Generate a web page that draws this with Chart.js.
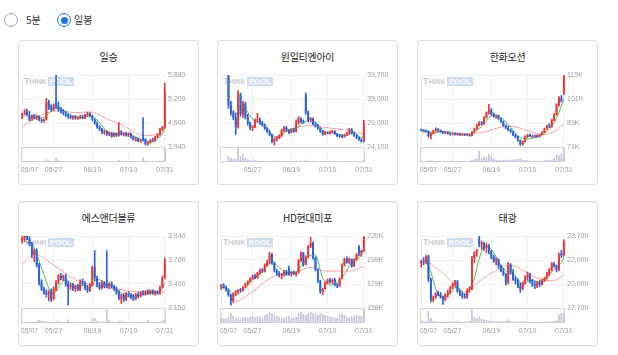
<!DOCTYPE html>
<html><head><meta charset="utf-8">
<script src="https://cdn.jsdelivr.net/npm/chart.js@4/dist/chart.umd.min.js"></script>
<style>
html,body{margin:0;padding:0;background:#fff;width:618px;height:355px;overflow:hidden;font-family:"Noto Sans CJK KR","Noto Sans",sans-serif;}
.rb{position:absolute;top:13px;width:12px;height:12px;border:1px solid #a3a3a3;border-radius:50%;background:#fff}
.rb.on{border-color:#1f6fe0}
.rb.on::after{content:"";position:absolute;left:2.5px;top:2.5px;width:7px;height:7px;border-radius:50%;background:#1f6fe0}
.rl{position:absolute;top:13px;font-size:10px;line-height:14px;color:#333}
.card{position:absolute;width:181px;height:145px;box-sizing:border-box;border:1px solid #dedede;border-radius:3px;background:#fff}
.card canvas{position:absolute;left:-1px;top:-1px}
.title{position:absolute;left:-1px;width:181px;top:9px;text-align:center;font-size:10px;line-height:14px;color:#222;letter-spacing:-0.3px}
.wm{position:absolute;left:5px;top:36px;font-family:"Liberation Sans",Arial,sans-serif;font-weight:bold;color:#c9c9c9;font-size:7px;line-height:9px;white-space:nowrap}
.wm .T{font-size:9px}
.wm .p{display:inline-block;background:#cddcf2;color:#fff;padding:0 2px;margin-left:1px;font-size:8px;line-height:9px}
</style></head>
<body>
<div class="rb" style="left:4px"></div><div class="rl" style="left:26px">5분</div>
<div class="rb on" style="left:57px"></div><div class="rl" style="left:74px">일봉</div>

<div class="card" style="left:18px;top:40px"><div class="title">일승</div><div class="wm"><span class="T">T</span>HINK<span class="p">POOL</span></div><canvas id="c1" width="181" height="145"></canvas></div>
<div class="card" style="left:217px;top:40px"><div class="title">원일티엔아이</div><div class="wm"><span class="T">T</span>HINK<span class="p">POOL</span></div><canvas id="c2" width="181" height="145"></canvas></div>
<div class="card" style="left:417px;top:40px"><div class="title">한화오션</div><div class="wm"><span class="T">T</span>HINK<span class="p">POOL</span></div><canvas id="c3" width="181" height="145"></canvas></div>
<div class="card" style="left:18px;top:201px"><div class="title">에스앤더블류</div><div class="wm"><span class="T">T</span>HINK<span class="p">POOL</span></div><canvas id="c4" width="181" height="145"></canvas></div>
<div class="card" style="left:217px;top:201px"><div class="title">HD현대미포</div><div class="wm"><span class="T">T</span>HINK<span class="p">POOL</span></div><canvas id="c5" width="181" height="145"></canvas></div>
<div class="card" style="left:417px;top:201px"><div class="title">태광</div><div class="wm"><span class="T">T</span>HINK<span class="p">POOL</span></div><canvas id="c6" width="181" height="145"></canvas></div>

<script>
const dates = ['05/07','05/08','05/09','05/10','05/13','05/14','05/16','05/17','05/20','05/21','05/22','05/23','05/24','05/27','05/28','05/29','05/30','05/31','06/03','06/04','06/05','06/07','06/10','06/11','06/12','06/13','06/14','06/17','06/18','06/19','06/20','06/21','06/24','06/25','06/26','06/27','06/28','07/01','07/02','07/03','07/04','07/05','07/08','07/09','07/10','07/11','07/12','07/15','07/16','07/17','07/18','07/19','07/22','07/23','07/24','07/25','07/26','07/29','07/30','07/31'];
const xLabels = ['05/07','05/27','06/19','07/10','07/31'];
const xLabelsNoFirst = ['05/27','06/19','07/10','07/31'];

// 일승
const c1Ticks = ['5,880','5,200','4,600','3,940'];
const c1Range = [3940, 5880];
const c1Open  = [4780,4850,4900,4800,4680,4780,4720,4760,4660,4640, 4680,5150,5000,4950,5150,5050,4950,4900,4850,4800, 4760,4720,4740,4710,4740,4760,4720,4800,4840,4780, 4680,4580,4480,4420,4330,4360,4280,4320,4230,4310, 4250,4350,4290,4310,4250,4300,4200,4140,4170,4100, 4200,4150,4020,4060,4130,4110,4210,4280,4420,4460];
const c1High  = [4850,4950,4960,4900,4800,4820,4800,4780,4700,4700, 5250,5200,5080,5100,5880,5150,5000,4950,4900,4830, 4800,4780,4790,4760,4800,4800,4820,4880,4870,4800, 4700,4620,4520,4450,4400,4380,4350,4340,4330,4320, 4600,4380,4330,4340,4320,4320,4230,4200,4180,4150, 4730,4170,4080,4150,4180,4230,4300,4450,4500,5660];
const c1Low   = [4700,4800,4780,4640,4650,4700,4680,4640,4600,4600, 4660,4950,4900,4920,4980,4900,4850,4800,4760,4720, 4700,4680,4690,4680,4700,4700,4700,4760,4750,4650, 4550,4450,4380,4300,4280,4250,4240,4200,4210,4220, 4230,4260,4240,4230,4220,4180,4120,4100,4080,4060, 4100,3990,3990,4040,4080,4100,4180,4250,4380,4440];
const c1Close = [4850,4900,4800,4680,4780,4720,4760,4660,4640,4680, 5150,5000,4950,5050,5050,4950,4900,4850,4800,4760, 4720,4740,4710,4740,4760,4720,4800,4840,4780,4680, 4580,4480,4420,4330,4360,4280,4320,4230,4310,4250, 4350,4290,4310,4250,4300,4200,4140,4170,4100,4120, 4150,4020,4060,4130,4110,4210,4280,4420,4460,5450];
const c1Vol   = [8,6,5,7,5,4,4,5,4,4, 18,10,6,5,30,12,7,5,5,4, 4,4,3,4,4,4,5,6,5,5, 5,6,5,6,4,4,4,4,4,5, 14,6,4,4,4,4,5,4,4,4, 30,10,6,5,4,5,6,8,9,100];
const c1Ma20  = [[0,4490],[5,4700],[11,4870],[16,4920],[19,4880],[24,4870],[29,4880],[33,4770],[36,4670],[41,4540],[46,4360],[50,4250],[55,4270],[59,4360]];
const c1Ma5   = [[4,4800],[7,4720],[10,4780],[13,4970],[16,4980],[19,4850],[22,4750],[25,4730],[28,4780],[31,4670],[34,4430],[37,4300],[40,4290],[43,4290],[46,4240],[49,4150],[52,4090],[55,4110],[58,4300],[59,4560]];

// 원일티엔아이
const c2Ticks = ['39,700','35,000','29,000','24,100'];
const c2Range = [24100, 39700];
const c2Open  = [null,null,null,39600,33200,31500,30500,28500,35500,31200, 33500,30500,29200,28200,28500,29900,30000,29300,28900,28100, 27400,26700,25200,25900,26200,26500,27800,28300,27700,27300, 27800,27500,29400,30300,29600,35300,31600,29800,30300,29100, 28700,28100,27500,26900,27200,27000,27400,27500,26900,26500, 26400,26300,26700,27100,27900,27100,26600,26100,25700,25300];
const c2High  = [null,null,null,39700,34000,32000,31500,36300,35800,34000, 33800,31200,29500,28800,30200,31400,30400,29700,29100,28300, 27700,26900,26100,26400,26700,28000,28600,28500,27900,28000, 28200,30000,30700,30500,30000,35800,31900,30500,30400,29500, 29000,28300,27700,27500,27400,27600,27700,27600,27000,26800, 26700,26900,27300,28200,28100,27300,26800,26300,25900,29900];
const c2Low   = [null,null,null,32500,31000,30000,26800,28200,30800,30500, 30200,28800,27800,27600,28300,29400,29000,28600,27900,27200, 26500,25000,24500,25400,25900,26300,27400,27500,27000,27100, 27300,27300,29000,29300,29200,31200,29500,29500,28900,28400, 27900,27300,26600,26700,26900,26900,27100,26800,26300,26200, 26100,26200,26500,26900,26900,26400,25900,25500,25100,25200];
const c2Close = [null,null,null,33200,31500,30500,28500,35500,31200,33500, 30500,29200,28200,28500,29900,30000,29300,28900,28100,27400, 26700,25200,25900,26200,26500,27800,28300,27700,27300,27800, 27500,29400,30300,29600,29500,31600,29800,30300,29100,28700, 28100,27500,26900,27200,27000,27400,27500,26900,26500,26400, 26300,26700,27100,27900,27100,26600,26100,25700,25300,29200];
const c2Vol   = [null,null,null,40,30,22,25,100,40,55, 30,20,15,10,12,10,8,7,6,6, 6,8,10,8,6,5,5,5,4,5, 5,8,6,5,5,15,8,5,5,4, 4,4,4,4,3,4,4,4,3,3, 3,4,4,6,4,3,3,3,4,12];
const c2Ma20  = [[22,26000],[26,27300],[31,28300],[35,28700],[40,28600],[45,28200],[50,27900],[54,27600],[59,26900]];
const c2Ma5   = [[7,32400],[10,32300],[13,30100],[16,29400],[19,28300],[22,26300],[25,26600],[28,27900],[31,28200],[34,29300],[37,30200],[40,28800],[43,27400],[46,27200],[49,26800],[52,26700],[55,27200],[58,26100],[59,26800]];

// 한화오션
const c3Ticks = ['115K','101K','89K','71K'];
const c3Range = [71000, 115000];
const c3Open  = [81500,81200,80900,80600,77800,79000,80800,82000,80900,80300, 79600,80000,79100,78600,79200,78500,79000,78400,78800,78300, 78600,77900,80200,82000,84300,86000,85100,89000,92000,93500, 91000,89600,90200,88200,86400,84000,82600,81500,80200,78400, 77000,75000,72600,74300,77200,78400,77700,77200,78100,77300, 78600,80000,82100,84000,83400,87500,90800,96800,101200,104000];
const c3High  = [82000,81600,81400,81000,79500,81200,82800,82300,81500,80700, 80300,80400,79600,79400,79500,79300,79300,79000,79100,78900, 78800,80500,82500,84800,86500,86600,89600,92500,97000,94500, 91800,90700,90600,88600,87000,84600,83500,82000,80800,79000, 77500,75400,74800,77800,78800,79000,78300,78400,78500,78800, 80400,82600,84400,85200,88000,91500,97500,101800,102500,115500];
const c3Low   = [80800,80500,80200,77000,76000,78800,80500,80600,80000,79200, 79000,78800,78200,78300,78200,78200,78100,78000,78000,77900, 77600,77700,80000,81600,83800,84500,84800,88500,91000,90500, 89200,88500,87800,86000,83500,82200,81000,79800,78000,76500, 74500,72000,72200,74000,76700,77300,76800,77000,76900,77100, 78300,79600,81800,82800,83000,87000,90300,96000,98500,103000];
const c3Close = [81200,80900,80600,77800,79000,80800,82000,80900,80300,79600, 80000,79100,78600,79200,78500,79000,78400,78800,78300,78600, 77900,80200,82000,84300,86000,85100,89000,92000,93500,91000, 89600,90200,88200,86400,84000,82600,81500,80200,78400,77000, 75000,72600,74300,77200,78400,77700,77200,78100,77300,78600, 80000,82100,84000,83400,87500,90800,96800,101200,99200,114500];
const c3Vol   = [6,5,5,12,10,8,9,6,5,5, 5,4,4,4,4,4,4,4,4,4, 5,12,20,25,75,25,35,30,55,35, 25,15,15,12,12,12,15,15,15,18, 20,25,15,15,12,8,7,7,6,8, 8,12,15,12,15,25,50,45,55,95];
const c3Ma20  = [[0,80000],[10,80300],[20,79100],[27,80500],[32,82800],[37,83700],[42,82000],[47,79500],[51,78700],[55,80500],[59,85000]];
const c3Ma5   = [[0,81300],[5,79500],[10,80600],[15,78900],[20,78700],[25,83500],[29,90000],[33,89200],[37,83000],[41,76700],[45,76000],[49,77700],[53,81900],[56,88500],[59,100500]];

// 에스앤더블류
const c4Ticks = ['3,940','3,700','3,400','3,150'];
const c4Range = [3150, 3940];
const c4Open  = [3880,3920,3940,3910,3850,3730,3780,3620,3430,3360, 3320,3300,3320,3250,3360,3430,3500,3480,3500,3420, 3380,3400,3360,3390,3350,3440,3420,3370,3340,3400, 3600,3480,3400,3370,3430,3420,3390,3410,3380,3360, 3320,3260,3290,3240,3310,3290,3270,3250,3300,3280, 3320,3300,3330,3310,3340,3310,3330,3310,3380,3480];
const c4High  = [3935,3950,3950,3940,3870,3800,3800,3640,3460,3380, 3350,3340,3360,3380,3450,3520,3530,3510,3520,3440, 3420,3420,3400,3410,3460,3470,3440,3400,3420,3610, 3780,3500,3430,3450,3440,3780,3430,3440,3400,3380, 3340,3300,3310,3320,3330,3310,3300,3310,3320,3330, 3340,3340,3350,3350,3350,3340,3340,3390,3500,3700];
const c4Low   = [3860,3880,3900,3830,3700,3660,3600,3400,3340,3300, 3270,3230,3220,3240,3340,3410,3460,3450,3390,3180, 3350,3340,3330,3340,3340,3400,3350,3320,3330,3390, 3450,3380,3350,3360,3370,3370,3360,3370,3340,3300, 3240,3200,3220,3230,3270,3250,3230,3240,3260,3270, 3290,3290,3300,3300,3300,3290,3300,3300,3370,3470];
const c4Close = [3920,3940,3910,3850,3730,3780,3620,3430,3360,3320, 3300,3320,3250,3360,3430,3500,3480,3500,3410,3380, 3400,3360,3390,3350,3440,3420,3370,3340,3400,3600, 3480,3400,3370,3430,3390,3390,3410,3380,3360,3320, 3260,3290,3240,3310,3290,3270,3250,3300,3280,3320, 3300,3330,3310,3340,3310,3330,3310,3380,3480,3660];
const c4Vol   = [8,6,5,8,10,8,12,20,18,12, 10,8,8,8,10,10,8,6,10,25, 8,6,6,5,8,6,6,5,8,30, 35,15,10,10,8,100,20,10,8,8, 12,12,8,8,6,6,6,6,8,6, 8,6,20,6,6,6,8,12,18,25];
const c4Ma20  = [[0,3625],[5,3740],[12,3640],[19,3510],[24,3435],[33,3390],[40,3355],[47,3330],[59,3330]];
const c4Ma5   = [[2,3870],[4,3860],[6,3740],[8,3590],[10,3440],[12,3310],[14,3330],[16,3410],[18,3460],[20,3430],[22,3390],[24,3390],[26,3400],[28,3370],[30,3440],[32,3460],[34,3410],[36,3400],[38,3390],[40,3340],[42,3280],[44,3280],[46,3280],[48,3280],[50,3300],[52,3310],[54,3320],[56,3320],[58,3360],[59,3420]];

// HD현대미포
const c5Ticks = ['220K','199K','179K','158K'];
const c5Range = [158000, 220000];
const c5Open  = [176000,177500,176000,173500,169000,164000,170000,172000,173500,173000, 176000,179000,181000,183500,185500,184000,188500,190500,189500,195000, 198000,204000,196500,190000,187500,186000,187000,189500,192000,187500, 189000,187500,188500,199000,205500,195500,202000,211000,214000,201000, 191000,181000,172000,174500,180000,182000,180500,182500,178000,177000, 183500,195000,200000,197500,200000,194000,199500,211000,205000,207000];
const c5High  = [178500,179000,177000,174500,170000,171000,173000,174000,175000,176500, 179500,181500,184000,186500,187000,189000,191500,192000,196000,199000, 206000,205000,197500,191500,189500,188000,190500,190500,194000,189500, 190000,189000,200000,206500,206000,203000,212000,219000,215000,202000, 192000,182000,175000,180500,183000,183500,183000,183500,179000,184000, 196000,201000,202000,201000,200500,200500,205000,212000,208000,221000];
const c5Low   = [174000,175000,172500,168000,160500,163000,169000,170500,172000,172500, 175500,177500,180000,182500,183000,183500,187000,188500,189000,194000, 196000,195500,189000,186000,184500,183000,185500,186000,186000,185500, 186500,185500,188000,198000,194000,195000,201000,210000,200000,190000, 180000,170500,169500,174000,178500,179500,179000,177000,175500,176500, 183000,194000,196500,196000,193000,193500,199000,203000,202500,206500];
const c5Close = [177500,176000,173500,169000,164000,170000,172000,173500,173000,176000, 179000,181000,183500,185500,184000,188500,190500,189500,195000,198000, 204000,196500,190000,187500,186000,187000,189500,187000,187500,189000, 187500,188500,199000,205500,195500,202000,211000,214000,201000,191000, 181000,172000,174500,180000,182000,180500,182500,178000,177000,183500, 195000,200000,197500,200000,194000,199500,204000,205000,207000,219000];
const c5Vol   = [30,25,28,35,55,40,30,28,25,30, 35,30,35,40,30,35,38,30,45,50, 60,55,45,40,35,30,30,35,40,30, 30,35,55,60,50,45,55,60,55,50, 45,55,50,45,40,35,35,30,30,45, 55,45,35,30,35,40,45,40,40,80];
const c5Ma20  = [[4,162000],[7,164000],[13,172000],[19,182000],[23,186000],[31,189000],[37,193000],[42,190000],[48,190000],[54,190000],[59,194000]];
const c5Ma5   = [[0,176000],[3,174000],[6,169000],[9,173000],[12,180000],[15,186000],[18,191000],[21,198000],[24,193000],[27,188000],[30,188000],[33,194000],[36,202000],[39,204000],[42,184000],[45,178000],[48,180000],[51,187000],[54,197000],[57,201000],[59,208000]];

// 태광
const c6Ticks = ['23,700','22,000','20,000','17,700'];
const c6Range = [17700, 23700];
const c6Open  = [21400,21600,21500,22000,20100,18400,18600,18900,18800,18600, 18400,18800,19000,19400,19700,19900,19100,18800,18700,18600, 19200,19300,21800,22300,23500,23000,23100,22700,22900,22400, 22000,21600,21700,21200,20800,20500,19800,21300,20700,20100, 19900,19500,19300,19800,20200,20500,19900,19600,19500,19800, 19700,20000,20200,20600,20900,21400,21200,20900,22300,22100];
const c6High  = [21700,21900,22100,22100,20200,18700,19000,19100,19000,18700, 18900,19200,19500,19800,20000,20000,19200,19000,18900,19300, 19500,22000,22400,22600,23800,23300,23200,23100,23000,22500, 22100,21900,21800,21300,21000,20600,21500,21400,20900,20300, 20100,19800,19900,20400,20700,20600,20100,19900,19900,20000, 20100,20300,20700,21000,21500,21500,21300,22300,22500,23400];
const c6Low   = [21100,21300,21400,19900,18200,18200,18500,18700,18500,18000, 18300,18600,18900,19300,19500,19000,18700,18500,18500,18500, 19000,19200,21500,22000,22800,22600,22500,22300,22200,21800, 21500,21300,21000,20700,20400,19600,19700,20500,20000,19700, 19400,19000,19200,19700,20000,19800,19500,19300,19400,19500, 19600,19900,20100,20400,20800,21100,20700,20800,21900,22000];
const c6Close = [21600,21500,22000,20100,18400,18600,18900,18800,18600,18400, 18800,19000,19400,19700,19900,19100,18800,18700,18600,19200, 19300,21800,22300,22500,23000,23100,22700,22900,22400,22000, 21600,21700,21200,20800,20500,19800,21300,20700,20100,19900, 19500,19300,19800,20200,20500,19900,19600,19500,19800,19700, 20000,20200,20600,20900,21400,21200,20900,22100,22100,23200];
const c6Vol   = [15,10,12,85,35,15,12,10,10,12, 8,10,12,12,10,12,10,8,8,10, 15,100,40,35,45,30,25,20,15,12, 12,10,10,12,12,15,25,15,12,10, 10,12,10,12,10,8,8,8,8,8, 8,10,10,12,12,15,20,60,70,65];
const c6Ma20  = [[2,21700],[10,20400],[18,19060],[23,19760],[29,20600],[37,21280],[48,20180],[55,20000],[59,20450]];
const c6Ma5   = [[2,21600],[4,20700],[6,19300],[8,18700],[10,18600],[12,18900],[14,19400],[16,19300],[18,18800],[20,19200],[22,20200],[24,21800],[26,22800],[28,22800],[30,22300],[32,21600],[34,21000],[36,20700],[38,20600],[40,20100],[42,19600],[44,19900],[46,20000],[48,19900],[50,19800],[52,20200],[54,20700],[56,21100],[58,21500],[59,21900]];

const UP = '#e4393c', DOWN = '#2b62d6';
const PRICE_H = 72, VOL_H = 15;

function spread(samples) {
  const a = dates.map(() => null);
  samples.forEach(([i, v]) => { a[i] = v; });
  return a;
}

const paneFrame = {
  id: 'paneFrame',
  beforeDatasetsDraw(chart, args, opts) {
    const {ctx, chartArea: a, scales} = chart;
    const yb = Math.round(scales.y.getPixelForValue(opts.bottom)) + 0.5;
    const l = Math.round(a.left) + 0.5, r = Math.round(a.right) - 0.5, b = Math.round(a.bottom) - 0.5;
    ctx.save();
    ctx.strokeStyle = '#d6d6d6';
    ctx.lineWidth = 1;
    ctx.beginPath();
    ctx.moveTo(l, b); ctx.lineTo(l, yb); ctx.lineTo(r, yb); ctx.lineTo(r, b); ctx.lineTo(l, b);
    ctx.stroke();
    ctx.restore();
  },
  afterDraw(chart, args, opts) {
    const {ctx, scales, chartArea} = chart;
    ctx.save();
    ctx.font = '7px "Liberation Sans", Arial, sans-serif';
    ctx.fillStyle = '#9b9b9b';
    ctx.textBaseline = 'middle';
    opts.labels.forEach(lab => {
      const i = dates.indexOf(lab);
      const px = scales.x.getPixelForValue(i);
      if (i === 0) { ctx.textAlign = 'left'; ctx.fillText(lab, px - 1.5, chartArea.bottom + 8); }
      else { ctx.textAlign = 'center'; ctx.fillText(lab, px, chartArea.bottom + 8); }
    });
    ctx.restore();
  }
};

function build(id, d) {
  const [bot, top] = d.range;
  const yMin = bot - (top - bot) * VOL_H / PRICE_H;
  const vmax = Math.max(...d.vol.filter(x => x != null));
  const col = d.open.map((o, i) => o == null ? null : (d.close[i] >= o ? UP : DOWN));
  new Chart(document.getElementById(id), {
    type: 'bar',
    data: {
      labels: dates,
      datasets: [
        {type: 'line', data: spread(d.ma20), yAxisID: 'y', borderColor: '#f2a3a3', borderWidth: 1, pointRadius: 0, spanGaps: true, tension: 0.35, order: 4},
        {type: 'line', data: spread(d.ma5), yAxisID: 'y', borderColor: '#5cb85c', borderWidth: 1, pointRadius: 0, spanGaps: true, tension: 0.3, order: 3},
        {data: d.vol, yAxisID: 'yv', backgroundColor: '#c6c6da', grouped: false, barPercentage: 0.7, categoryPercentage: 1, order: 5},
        {data: d.low.map((x, i) => x == null ? null : [x, d.high[i]]), yAxisID: 'y', backgroundColor: col, barThickness: 1, grouped: false, order: 2},
        {data: d.open.map((x, i) => x == null ? null : [x, d.close[i]]), yAxisID: 'y', backgroundColor: col, barPercentage: 0.8, categoryPercentage: 1, grouped: false, minBarLength: 1, order: 1}
      ]
    },
    options: {
      responsive: false, animation: false, events: [], devicePixelRatio: 1,
      layout: {padding: {left: 3, top: 35, right: 0, bottom: 0}},
      plugins: {legend: {display: false}, tooltip: {enabled: false}, paneFrame: {bottom: bot, labels: d.xl}},
      scales: {
        x: {
          offset: true,
          grid: {offset: false, color: '#f0f0f0', drawTicks: false},
          border: {display: false},
          ticks: {display: false},
          afterBuildTicks: s => { s.ticks = d.xl.map(lab => ({value: dates.indexOf(lab)})); },
          afterFit: s => { s.height = 23; }
        },
        y: {
          position: 'right', min: yMin, max: top,
          grid: {drawTicks: false, color: c => c.index === 0 ? 'rgba(0,0,0,0)' : '#f1f1f1'},
          border: {display: false},
          ticks: {font: {size: 7, family: '"Liberation Sans", Arial, sans-serif'}, color: '#9b9b9b', padding: 2,
                  callback: (v, i) => d.ticks[3 - i]},
          afterBuildTicks: s => { s.ticks = [0, 1, 2, 3].map(k => ({value: bot + (top - bot) * k / 3})); },
          afterFit: s => { s.width = 33; }
        },
        yv: {display: false, min: 0, max: vmax * (PRICE_H + VOL_H) / VOL_H * 1.04}
      }
    },
    plugins: [paneFrame]
  });
}

build('c1', {open: c1Open, high: c1High, low: c1Low, close: c1Close, vol: c1Vol, ma20: c1Ma20, ma5: c1Ma5, ticks: c1Ticks, range: c1Range, xl: xLabels});
build('c2', {open: c2Open, high: c2High, low: c2Low, close: c2Close, vol: c2Vol, ma20: c2Ma20, ma5: c2Ma5, ticks: c2Ticks, range: c2Range, xl: xLabelsNoFirst});
build('c3', {open: c3Open, high: c3High, low: c3Low, close: c3Close, vol: c3Vol, ma20: c3Ma20, ma5: c3Ma5, ticks: c3Ticks, range: c3Range, xl: xLabels});
build('c4', {open: c4Open, high: c4High, low: c4Low, close: c4Close, vol: c4Vol, ma20: c4Ma20, ma5: c4Ma5, ticks: c4Ticks, range: c4Range, xl: xLabels});
build('c5', {open: c5Open, high: c5High, low: c5Low, close: c5Close, vol: c5Vol, ma20: c5Ma20, ma5: c5Ma5, ticks: c5Ticks, range: c5Range, xl: xLabels});
build('c6', {open: c6Open, high: c6High, low: c6Low, close: c6Close, vol: c6Vol, ma20: c6Ma20, ma5: c6Ma5, ticks: c6Ticks, range: c6Range, xl: xLabels});
</script>
</body></html>
